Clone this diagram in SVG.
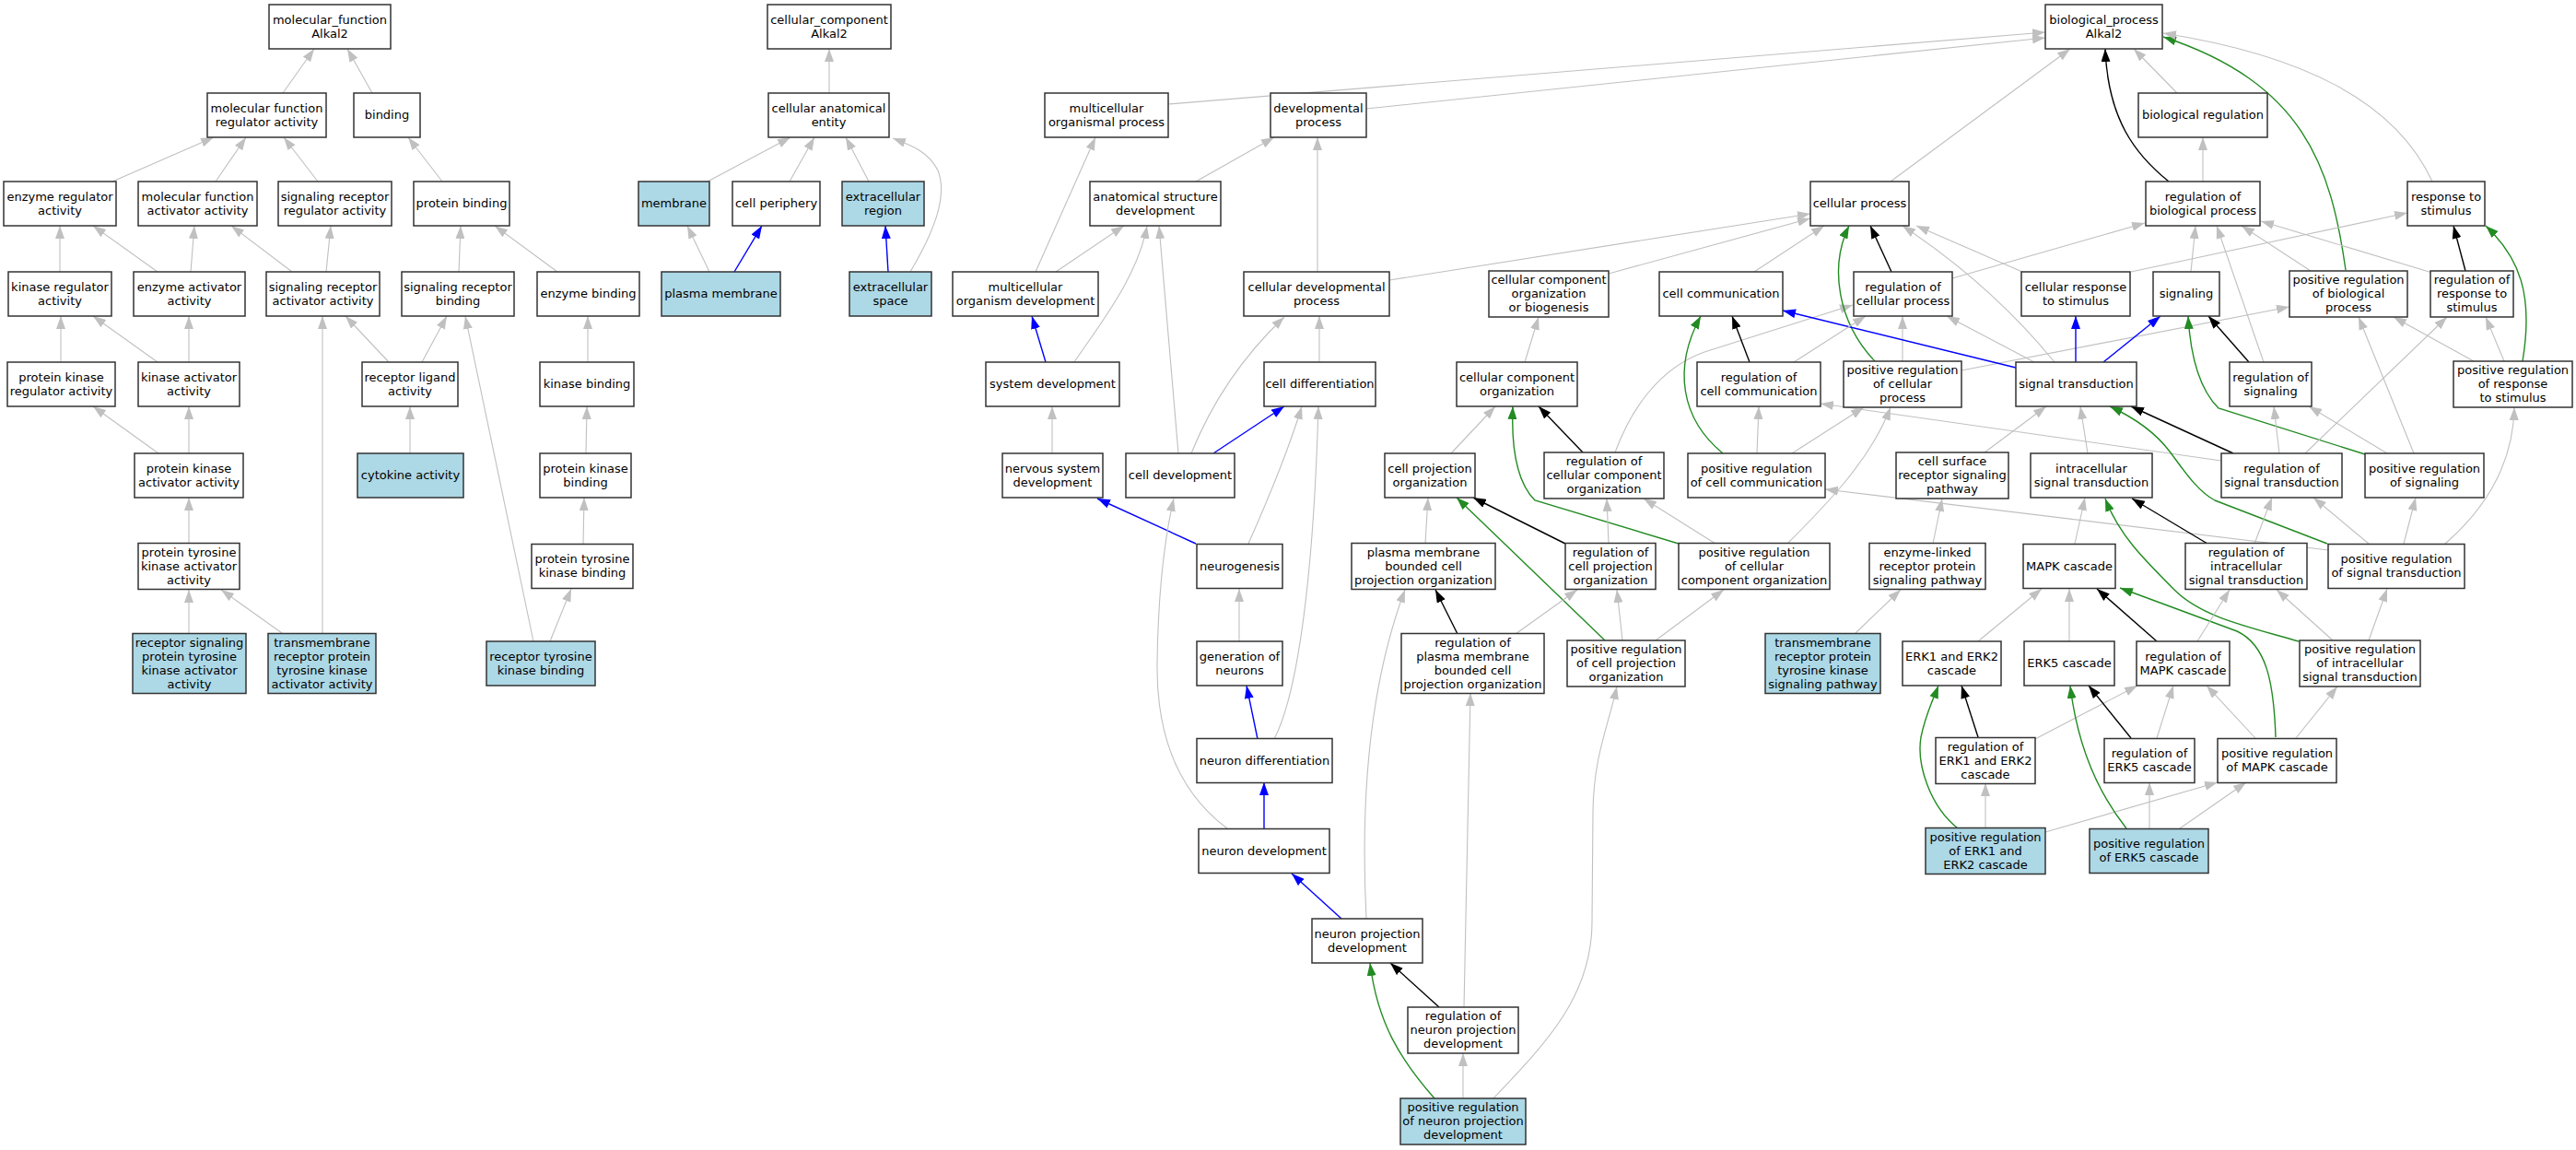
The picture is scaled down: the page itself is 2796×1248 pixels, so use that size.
<svg xmlns="http://www.w3.org/2000/svg" width="2796" height="1248" viewBox="0 0 2796 1248">
<defs>
<style>
.n rect{fill:#fff;stroke:#333;stroke-width:1.5}
.b rect{fill:#add8e6;stroke:#333;stroke-width:1.5}
text{font-family:"DejaVu Sans",Verdana,sans-serif;font-size:13px;text-anchor:middle;fill:#000}
#edges path{fill:none}
.eg{stroke:#c0c0c0;stroke-width:1.1;marker-end:url(#mg)}
.ek{stroke:#000;stroke-width:1.4;marker-end:url(#mk)}
.eb{stroke:#0000ff;stroke-width:1.4;marker-end:url(#mb)}
.en{stroke:#228b22;stroke-width:1.4;marker-end:url(#mn)}
</style>
<marker id="mg" viewBox="0 0 14 10" markerWidth="14" markerHeight="10" refX="14" refY="5" orient="auto" markerUnits="userSpaceOnUse"><path d="M0,0L14,5L0,10z" fill="#c0c0c0"/></marker>
<marker id="mk" viewBox="0 0 14 10" markerWidth="14" markerHeight="10" refX="14" refY="5" orient="auto" markerUnits="userSpaceOnUse"><path d="M0,0L14,5L0,10z" fill="#000"/></marker>
<marker id="mb" viewBox="0 0 14 10" markerWidth="14" markerHeight="10" refX="14" refY="5" orient="auto" markerUnits="userSpaceOnUse"><path d="M0,0L14,5L0,10z" fill="#0000ff"/></marker>
<marker id="mn" viewBox="0 0 14 10" markerWidth="14" markerHeight="10" refX="14" refY="5" orient="auto" markerUnits="userSpaceOnUse"><path d="M0,0L14,5L0,10z" fill="#228b22"/></marker>
</defs>
<rect x="0" y="0" width="2796" height="1248" fill="#fff"/>
<g id="edges">
<path class="eg" d="M307,101L341,53"/>
<path class="eg" d="M404,101L377,53"/>
<path class="eg" d="M122,197L232,149"/>
<path class="eg" d="M234,197L267,149"/>
<path class="eg" d="M345,197L308,149"/>
<path class="eg" d="M480,197L443,149"/>
<path class="eg" d="M65,295L65,245"/>
<path class="eg" d="M171,295L101,245"/>
<path class="eg" d="M207,295L211,245"/>
<path class="eg" d="M317,295L251,245"/>
<path class="eg" d="M354,295L359,245"/>
<path class="eg" d="M498,295L500,245"/>
<path class="eg" d="M605,295L537,245"/>
<path class="eg" d="M66,393L66,343"/>
<path class="eg" d="M171,393L101,343"/>
<path class="eg" d="M205,393L205,343"/>
<path class="eg" d="M422,393L375,343"/>
<path class="eg" d="M458,393L485,343"/>
<path class="eg" d="M638,393L638,343"/>
<path class="eg" d="M172,492L101,441"/>
<path class="eg" d="M205,492L205,441"/>
<path class="eg" d="M445,492L445,441"/>
<path class="eg" d="M636,492L637,441"/>
<path class="eg" d="M205,589L205,540"/>
<path class="eg" d="M633,590L634,540"/>
<path class="eg" d="M205,687L205,640"/>
<path class="eg" d="M306,687L240,640"/>
<path class="eg" d="M350,687L350,343"/>
<path class="eg" d="M597,696L620,639"/>
<path class="eg" d="M579,696L505,343"/>
<path class="eg" d="M900,101L900,53"/>
<path class="eg" d="M768,197L858,149"/>
<path class="eg" d="M857,197L884,149"/>
<path class="eg" d="M943,197L918,149"/>
<path class="eg" d="M988,295C1010,258 1030,215 1018,185C1008,165 990,158 969,150"/>
<path class="eg" d="M770,295L746,245"/>
<path class="eb" d="M797,295L827,245"/>
<path class="eb" d="M964,295L961,245"/>
<path class="eg" d="M1268,113L2220,35"/>
<path class="eg" d="M1483,118L2220,41"/>
<path class="eg" d="M2052,197L2247,53"/>
<path class="ek" d="M2354,197C2318,168 2288,130 2285,53"/>
<path class="eg" d="M2363,101L2316,53"/>
<path class="en" d="M2546,293C2530,180 2500,90 2348,40"/>
<path class="eg" d="M2640,197C2600,110 2500,60 2348,36"/>
<path class="eg" d="M2391,197L2391,149"/>
<path class="eg" d="M1298,197L1383,149"/>
<path class="eg" d="M1430,295L1430,149"/>
<path class="eg" d="M1124,295L1189,149"/>
<path class="eg" d="M1146,295L1220,245"/>
<path class="eg" d="M1166,393C1195,350 1235,300 1245,245"/>
<path class="eg" d="M1279,492L1258,245"/>
<path class="eb" d="M1135,393L1120,343"/>
<path class="eg" d="M1142,492L1142,441"/>
<path class="eb" d="M1298,590L1191,541"/>
<path class="eg" d="M1332,899C1280,860 1255,800 1256,720C1257,640 1265,580 1274,541"/>
<path class="eb" d="M1317,492L1394,441"/>
<path class="eg" d="M1293,492C1310,450 1340,395 1394,344"/>
<path class="eg" d="M1432,393L1432,343"/>
<path class="eg" d="M1355,590Q1395,500 1413,441"/>
<path class="eg" d="M1383,802C1405,760 1425,650 1431,441"/>
<path class="eg" d="M1345,696L1345,639"/>
<path class="eb" d="M1365,802L1353,744"/>
<path class="eb" d="M1372,899L1372,849"/>
<path class="eb" d="M1456,997L1402,948"/>
<path class="ek" d="M1562,1093L1509,1045"/>
<path class="en" d="M1557,1192C1520,1150 1495,1110 1487,1045"/>
<path class="eg" d="M1588,1192L1588,1143"/>
<path class="eg" d="M1621,1192C1680,1130 1728,1080 1728,1000L1729,880C1730,820 1745,790 1755,745"/>
<path class="eg" d="M1589,1093L1596,752"/>
<path class="eg" d="M1483,997C1478,900 1480,760 1525,640"/>
<path class="eg" d="M1575,492L1623,441"/>
<path class="ek" d="M1718,491L1670,441"/>
<path class="en" d="M1822,590L1666,543C1648,525 1640,490 1642,441"/>
<path class="eg" d="M1547,590L1550,540"/>
<path class="ek" d="M1699,590L1599,540"/>
<path class="en" d="M1742,695L1581,540"/>
<path class="eg" d="M1746,590L1744,541"/>
<path class="eg" d="M1862,590L1784,541"/>
<path class="ek" d="M1582,688L1558,640"/>
<path class="eg" d="M1645,688L1712,640"/>
<path class="eg" d="M1761,695L1755,640"/>
<path class="eg" d="M1797,695L1871,640"/>
<path class="eg" d="M1940,590C1980,550 2030,500 2052,442"/>
<path class="eg" d="M1753,491C1770,445 1800,400 1850,382L2011,331"/>
<path class="eg" d="M1655,393L1670,344"/>
<path class="eg" d="M1746,297L1965,237"/>
<path class="eg" d="M1508,304L1965,232"/>
<path class="eg" d="M1904,295L1980,245"/>
<path class="ek" d="M2053,295L2030,245"/>
<path class="en" d="M2035,392C1995,350 1985,290 2007,245"/>
<path class="eg" d="M2195,295L2080,245"/>
<path class="eg" d="M2230,393C2195,350 2140,295 2065,245"/>
<path class="eg" d="M2119,302L2328,242"/>
<path class="eg" d="M2065,392L2065,343"/>
<path class="eg" d="M2129,402L2485,333"/>
<path class="eg" d="M2313,295L2613,231"/>
<path class="eb" d="M2253,393L2253,343"/>
<path class="eb" d="M2283,393L2345,343"/>
<path class="eb" d="M2188,399L1935,337"/>
<path class="eg" d="M2208,393L2113,343"/>
<path class="eg" d="M2378,295L2383,245"/>
<path class="eg" d="M2457,393L2406,245"/>
<path class="eg" d="M2508,294L2433,245"/>
<path class="eg" d="M2640,296L2454,240"/>
<path class="ek" d="M2676,294L2663,245"/>
<path class="en" d="M2738,392C2750,320 2735,280 2698,245"/>
<path class="eg" d="M2718,392L2698,344"/>
<path class="eg" d="M2685,392L2598,344"/>
<path class="ek" d="M2441,393L2397,343"/>
<path class="en" d="M2567,493L2408,443C2390,425 2378,395 2375,343"/>
<path class="eg" d="M2591,492L2506,441"/>
<path class="eg" d="M2620,492L2560,344"/>
<path class="eg" d="M2474,492L2468,441"/>
<path class="ek" d="M2424,492L2313,441"/>
<path class="eg" d="M2411,500L1976,438"/>
<path class="eg" d="M2502,492L2656,344"/>
<path class="eg" d="M2266,492L2258,441"/>
<path class="eg" d="M2154,491L2221,441"/>
<path class="en" d="M2526,590L2404,543C2385,533 2370,510 2355,490C2340,470 2320,455 2290,441"/>
<path class="eg" d="M2571,590L2511,540"/>
<path class="eg" d="M2609,590L2622,540"/>
<path class="eg" d="M2654,590C2700,550 2728,500 2729,442"/>
<path class="eg" d="M2527,597L1981,531"/>
<path class="ek" d="M2396,590L2314,541"/>
<path class="eg" d="M2252,590L2263,540"/>
<path class="en" d="M2495,696C2440,680 2390,670 2360,640C2325,605 2300,580 2285,541"/>
<path class="en" d="M2470,800C2468,740 2460,700 2428,685L2301,638"/>
<path class="ek" d="M2341,696L2276,639"/>
<path class="eg" d="M2385,696L2420,640"/>
<path class="eg" d="M2532,695L2471,640"/>
<path class="eg" d="M2571,695L2591,639"/>
<path class="eg" d="M2447,590L2466,540"/>
<path class="eg" d="M2147,696L2216,639"/>
<path class="eg" d="M2246,696L2246,639"/>
<path class="ek" d="M2147,800L2129,744"/>
<path class="eg" d="M2207,803L2320,744"/>
<path class="ek" d="M2313,801L2267,744"/>
<path class="eg" d="M2341,801L2359,744"/>
<path class="eg" d="M2448,801L2395,744"/>
<path class="eg" d="M2492,801L2537,745"/>
<path class="en" d="M2125,899C2095,875 2080,830 2085,800C2090,775 2098,760 2104,744"/>
<path class="eg" d="M2155,899L2155,850"/>
<path class="eg" d="M2220,903L2407,849"/>
<path class="en" d="M2308,899C2285,870 2256,820 2247,744"/>
<path class="eg" d="M2333,899L2333,849"/>
<path class="eg" d="M2366,899L2438,849"/>
<path class="eg" d="M2098,590L2108,541"/>
<path class="eg" d="M2014,687L2063,640"/>
<path class="ek" d="M1899,393L1880,343"/>
<path class="en" d="M1870,492C1825,455 1815,400 1846,343"/>
<path class="eg" d="M1907,492L1909,441"/>
<path class="eg" d="M1945,492L2023,442"/>
<path class="eg" d="M1947,393L2025,343"/>
</g>
<g id="mf_root" class="n"><rect x="292" y="5" width="132" height="48"/><text><tspan x="358" y="25.5">molecular_function</tspan><tspan x="358" y="40.5">Alkal2</tspan></text></g>
<g id="mfreg" class="n"><rect x="225" y="101" width="129" height="48"/><text><tspan x="289.5" y="121.5">molecular function</tspan><tspan x="289.5" y="136.5">regulator activity</tspan></text></g>
<g id="binding" class="n"><rect x="384" y="101" width="72" height="48"/><text x="420" y="129">binding</text></g>
<g id="enzreg" class="n"><rect x="4" y="197" width="122" height="48"/><text><tspan x="65" y="217.5">enzyme regulator</tspan><tspan x="65" y="232.5">activity</tspan></text></g>
<g id="mfact" class="n"><rect x="150" y="197" width="129" height="48"/><text><tspan x="214.5" y="217.5">molecular function</tspan><tspan x="214.5" y="232.5">activator activity</tspan></text></g>
<g id="srreg" class="n"><rect x="302" y="197" width="123" height="48"/><text><tspan x="363.5" y="217.5">signaling receptor</tspan><tspan x="363.5" y="232.5">regulator activity</tspan></text></g>
<g id="protbind" class="n"><rect x="449" y="197" width="104" height="48"/><text x="501" y="225">protein binding</text></g>
<g id="kinreg" class="n"><rect x="9" y="295" width="112" height="48"/><text><tspan x="65" y="315.5">kinase regulator</tspan><tspan x="65" y="330.5">activity</tspan></text></g>
<g id="enzact" class="n"><rect x="145" y="295" width="121" height="48"/><text><tspan x="205.5" y="315.5">enzyme activator</tspan><tspan x="205.5" y="330.5">activity</tspan></text></g>
<g id="sract" class="n"><rect x="289" y="295" width="123" height="48"/><text><tspan x="350.5" y="315.5">signaling receptor</tspan><tspan x="350.5" y="330.5">activator activity</tspan></text></g>
<g id="srbind" class="n"><rect x="436" y="295" width="122" height="48"/><text><tspan x="497" y="315.5">signaling receptor</tspan><tspan x="497" y="330.5">binding</tspan></text></g>
<g id="enzbind" class="n"><rect x="583" y="295" width="111" height="48"/><text x="638.5" y="323">enzyme binding</text></g>
<g id="pkreg" class="n"><rect x="8" y="393" width="117" height="48"/><text><tspan x="66.5" y="413.5">protein kinase</tspan><tspan x="66.5" y="428.5">regulator activity</tspan></text></g>
<g id="kinact" class="n"><rect x="150" y="393" width="110" height="48"/><text><tspan x="205" y="413.5">kinase activator</tspan><tspan x="205" y="428.5">activity</tspan></text></g>
<g id="recligand" class="n"><rect x="393" y="393" width="104" height="48"/><text><tspan x="445" y="413.5">receptor ligand</tspan><tspan x="445" y="428.5">activity</tspan></text></g>
<g id="kinbind" class="n"><rect x="586" y="393" width="102" height="48"/><text x="637" y="421">kinase binding</text></g>
<g id="pkact" class="n"><rect x="146" y="492" width="118" height="48"/><text><tspan x="205" y="512.5">protein kinase</tspan><tspan x="205" y="527.5">activator activity</tspan></text></g>
<g id="cytokine" class="b"><rect x="388" y="492" width="115" height="48"/><text x="445.5" y="520">cytokine activity</text></g>
<g id="pkbind" class="n"><rect x="586" y="492" width="99" height="48"/><text><tspan x="635.5" y="512.5">protein kinase</tspan><tspan x="635.5" y="527.5">binding</tspan></text></g>
<g id="ptkact" class="n"><rect x="150" y="589.5" width="110" height="50"/><text><tspan x="205" y="603.5">protein tyrosine</tspan><tspan x="205" y="618.5">kinase activator</tspan><tspan x="205" y="633.5">activity</tspan></text></g>
<g id="ptkbind" class="n"><rect x="577" y="590.5" width="110" height="48"/><text><tspan x="632" y="611">protein tyrosine</tspan><tspan x="632" y="626">kinase binding</tspan></text></g>
<g id="rsptka" class="b"><rect x="144" y="687.5" width="123" height="65"/><text><tspan x="205.5" y="701.5">receptor signaling</tspan><tspan x="205.5" y="716.5">protein tyrosine</tspan><tspan x="205.5" y="731.5">kinase activator</tspan><tspan x="205.5" y="746.5">activity</tspan></text></g>
<g id="tmrptka" class="b"><rect x="291" y="687.5" width="117" height="65"/><text><tspan x="349.5" y="701.5">transmembrane</tspan><tspan x="349.5" y="716.5">receptor protein</tspan><tspan x="349.5" y="731.5">tyrosine kinase</tspan><tspan x="349.5" y="746.5">activator activity</tspan></text></g>
<g id="rtkbind" class="b"><rect x="528" y="696" width="118" height="48"/><text><tspan x="587" y="716.5">receptor tyrosine</tspan><tspan x="587" y="731.5">kinase binding</tspan></text></g>
<g id="cc_root" class="n"><rect x="833" y="5" width="134" height="48"/><text><tspan x="900" y="25.5">cellular_component</tspan><tspan x="900" y="40.5">Alkal2</tspan></text></g>
<g id="cae" class="n"><rect x="834" y="101" width="131" height="48"/><text><tspan x="899.5" y="121.5">cellular anatomical</tspan><tspan x="899.5" y="136.5">entity</tspan></text></g>
<g id="membrane" class="b"><rect x="693" y="197" width="77" height="48"/><text x="731.5" y="225">membrane</text></g>
<g id="cellperiph" class="n"><rect x="795" y="197" width="95" height="48"/><text x="842.5" y="225">cell periphery</text></g>
<g id="extreg" class="b"><rect x="914" y="197" width="89" height="48"/><text><tspan x="958.5" y="217.5">extracellular</tspan><tspan x="958.5" y="232.5">region</tspan></text></g>
<g id="plasmamem" class="b"><rect x="718" y="295" width="129" height="48"/><text x="782.5" y="323">plasma membrane</text></g>
<g id="extspace" class="b"><rect x="922" y="295" width="89" height="48"/><text><tspan x="966.5" y="315.5">extracellular</tspan><tspan x="966.5" y="330.5">space</tspan></text></g>
<g id="bp_root" class="n"><rect x="2220" y="5" width="127" height="48"/><text><tspan x="2283.5" y="25.5">biological_process</tspan><tspan x="2283.5" y="40.5">Alkal2</tspan></text></g>
<g id="mop" class="n"><rect x="1134" y="101" width="134" height="48"/><text><tspan x="1201" y="121.5">multicellular</tspan><tspan x="1201" y="136.5">organismal process</tspan></text></g>
<g id="devproc" class="n"><rect x="1379" y="101" width="104" height="48"/><text><tspan x="1431" y="121.5">developmental</tspan><tspan x="1431" y="136.5">process</tspan></text></g>
<g id="bioreg" class="n"><rect x="2321" y="101" width="140" height="48"/><text x="2391" y="129">biological regulation</text></g>
<g id="asd" class="n"><rect x="1183" y="197" width="142" height="48"/><text><tspan x="1254" y="217.5">anatomical structure</tspan><tspan x="1254" y="232.5">development</tspan></text></g>
<g id="cellproc" class="n"><rect x="1965" y="197" width="107" height="48"/><text x="2018.5" y="225">cellular process</text></g>
<g id="regbp" class="n"><rect x="2329" y="197" width="124" height="48"/><text><tspan x="2391" y="217.5">regulation of</tspan><tspan x="2391" y="232.5">biological process</tspan></text></g>
<g id="respstim" class="n"><rect x="2613" y="197" width="84" height="48"/><text><tspan x="2655" y="217.5">response to</tspan><tspan x="2655" y="232.5">stimulus</tspan></text></g>
<g id="mod" class="n"><rect x="1034" y="295" width="158" height="48"/><text><tspan x="1113" y="315.5">multicellular</tspan><tspan x="1113" y="330.5">organism development</tspan></text></g>
<g id="celldevproc" class="n"><rect x="1350" y="295" width="158" height="48"/><text><tspan x="1429" y="315.5">cellular developmental</tspan><tspan x="1429" y="330.5">process</tspan></text></g>
<g id="ccob" class="n"><rect x="1616" y="294" width="130" height="50"/><text><tspan x="1681" y="308">cellular component</tspan><tspan x="1681" y="323">organization</tspan><tspan x="1681" y="338">or biogenesis</tspan></text></g>
<g id="cellcomm" class="n"><rect x="1801" y="295" width="134" height="48"/><text x="1868" y="323">cell communication</text></g>
<g id="regcp" class="n"><rect x="2012" y="295" width="107" height="48"/><text><tspan x="2065.5" y="315.5">regulation of</tspan><tspan x="2065.5" y="330.5">cellular process</tspan></text></g>
<g id="cellresp" class="n"><rect x="2194" y="295" width="118" height="48"/><text><tspan x="2253" y="315.5">cellular response</tspan><tspan x="2253" y="330.5">to stimulus</tspan></text></g>
<g id="signaling" class="n"><rect x="2337" y="295" width="72" height="48"/><text x="2373" y="323">signaling</text></g>
<g id="posregbp" class="n"><rect x="2485" y="294" width="128" height="50"/><text><tspan x="2549" y="308">positive regulation</tspan><tspan x="2549" y="323">of biological</tspan><tspan x="2549" y="338">process</tspan></text></g>
<g id="regresp" class="n"><rect x="2638" y="294" width="90" height="50"/><text><tspan x="2683" y="308">regulation of</tspan><tspan x="2683" y="323">response to</tspan><tspan x="2683" y="338">stimulus</tspan></text></g>
<g id="sysdev" class="n"><rect x="1070" y="393" width="145" height="48"/><text x="1142.5" y="421">system development</text></g>
<g id="celldiff" class="n"><rect x="1372" y="393" width="121" height="48"/><text x="1432.5" y="421">cell differentiation</text></g>
<g id="cco" class="n"><rect x="1581" y="393" width="131" height="48"/><text><tspan x="1646.5" y="413.5">cellular component</tspan><tspan x="1646.5" y="428.5">organization</tspan></text></g>
<g id="regcellcomm" class="n"><rect x="1842" y="393" width="134" height="48"/><text><tspan x="1909" y="413.5">regulation of</tspan><tspan x="1909" y="428.5">cell communication</tspan></text></g>
<g id="posregcp" class="n"><rect x="2001" y="392" width="128" height="50"/><text><tspan x="2065" y="406">positive regulation</tspan><tspan x="2065" y="421">of cellular</tspan><tspan x="2065" y="436">process</tspan></text></g>
<g id="sigtrans" class="n"><rect x="2188" y="393" width="131" height="48"/><text x="2253.5" y="421">signal transduction</text></g>
<g id="regsig" class="n"><rect x="2420" y="393" width="89" height="48"/><text><tspan x="2464.5" y="413.5">regulation of</tspan><tspan x="2464.5" y="428.5">signaling</tspan></text></g>
<g id="posregresp" class="n"><rect x="2663" y="392" width="129" height="50"/><text><tspan x="2727.5" y="406">positive regulation</tspan><tspan x="2727.5" y="421">of response</tspan><tspan x="2727.5" y="436">to stimulus</tspan></text></g>
<g id="nsd" class="n"><rect x="1088" y="492" width="109" height="48"/><text><tspan x="1142.5" y="512.5">nervous system</tspan><tspan x="1142.5" y="527.5">development</tspan></text></g>
<g id="celldev" class="n"><rect x="1222" y="492" width="118" height="48"/><text x="1281" y="520">cell development</text></g>
<g id="cpo" class="n"><rect x="1503" y="492" width="98" height="48"/><text><tspan x="1552" y="512.5">cell projection</tspan><tspan x="1552" y="527.5">organization</tspan></text></g>
<g id="regcco" class="n"><rect x="1676" y="491" width="130" height="50"/><text><tspan x="1741" y="505">regulation of</tspan><tspan x="1741" y="520">cellular component</tspan><tspan x="1741" y="535">organization</tspan></text></g>
<g id="posregcellcomm" class="n"><rect x="1832" y="492" width="149" height="48"/><text><tspan x="1906.5" y="512.5">positive regulation</tspan><tspan x="1906.5" y="527.5">of cell communication</tspan></text></g>
<g id="csrsp" class="n"><rect x="2058" y="491" width="122" height="50"/><text><tspan x="2119" y="505">cell surface</tspan><tspan x="2119" y="520">receptor signaling</tspan><tspan x="2119" y="535">pathway</tspan></text></g>
<g id="ist" class="n"><rect x="2204" y="492" width="132" height="48"/><text><tspan x="2270" y="512.5">intracellular</tspan><tspan x="2270" y="527.5">signal transduction</tspan></text></g>
<g id="regst" class="n"><rect x="2411" y="492" width="131" height="48"/><text><tspan x="2476.5" y="512.5">regulation of</tspan><tspan x="2476.5" y="527.5">signal transduction</tspan></text></g>
<g id="posregsig" class="n"><rect x="2567" y="492" width="129" height="48"/><text><tspan x="2631.5" y="512.5">positive regulation</tspan><tspan x="2631.5" y="527.5">of signaling</tspan></text></g>
<g id="neurogenesis" class="n"><rect x="1299" y="590.5" width="93" height="48"/><text x="1345.5" y="618.5">neurogenesis</text></g>
<g id="pmbcpo" class="n"><rect x="1467" y="589.5" width="156" height="50"/><text><tspan x="1545" y="603.5">plasma membrane</tspan><tspan x="1545" y="618.5">bounded cell</tspan><tspan x="1545" y="633.5">projection organization</tspan></text></g>
<g id="regcpo" class="n"><rect x="1699" y="589.5" width="98" height="50"/><text><tspan x="1748" y="603.5">regulation of</tspan><tspan x="1748" y="618.5">cell projection</tspan><tspan x="1748" y="633.5">organization</tspan></text></g>
<g id="posregcco" class="n"><rect x="1822" y="589.5" width="164" height="50"/><text><tspan x="1904" y="603.5">positive regulation</tspan><tspan x="1904" y="618.5">of cellular</tspan><tspan x="1904" y="633.5">component organization</tspan></text></g>
<g id="elrpsp" class="n"><rect x="2029" y="589.5" width="126" height="50"/><text><tspan x="2092" y="603.5">enzyme-linked</tspan><tspan x="2092" y="618.5">receptor protein</tspan><tspan x="2092" y="633.5">signaling pathway</tspan></text></g>
<g id="mapk" class="n"><rect x="2196" y="590.5" width="100" height="48"/><text x="2246" y="618.5">MAPK cascade</text></g>
<g id="regist" class="n"><rect x="2372" y="589.5" width="132" height="50"/><text><tspan x="2438" y="603.5">regulation of</tspan><tspan x="2438" y="618.5">intracellular</tspan><tspan x="2438" y="633.5">signal transduction</tspan></text></g>
<g id="posregst" class="n"><rect x="2527" y="590.5" width="148" height="48"/><text><tspan x="2601" y="611">positive regulation</tspan><tspan x="2601" y="626">of signal transduction</tspan></text></g>
<g id="genneur" class="n"><rect x="1299" y="696" width="93" height="48"/><text><tspan x="1345.5" y="716.5">generation of</tspan><tspan x="1345.5" y="731.5">neurons</tspan></text></g>
<g id="regpmbcpo" class="n"><rect x="1521" y="687.5" width="155" height="65"/><text><tspan x="1598.5" y="701.5">regulation of</tspan><tspan x="1598.5" y="716.5">plasma membrane</tspan><tspan x="1598.5" y="731.5">bounded cell</tspan><tspan x="1598.5" y="746.5">projection organization</tspan></text></g>
<g id="posregcpo" class="n"><rect x="1701" y="695" width="128" height="50"/><text><tspan x="1765" y="709">positive regulation</tspan><tspan x="1765" y="724">of cell projection</tspan><tspan x="1765" y="739">organization</tspan></text></g>
<g id="tmrptksp" class="b"><rect x="1916" y="687.5" width="125" height="65"/><text><tspan x="1978.5" y="701.5">transmembrane</tspan><tspan x="1978.5" y="716.5">receptor protein</tspan><tspan x="1978.5" y="731.5">tyrosine kinase</tspan><tspan x="1978.5" y="746.5">signaling pathway</tspan></text></g>
<g id="erk12" class="n"><rect x="2065" y="696" width="107" height="48"/><text><tspan x="2118.5" y="716.5">ERK1 and ERK2</tspan><tspan x="2118.5" y="731.5">cascade</tspan></text></g>
<g id="erk5" class="n"><rect x="2197" y="696" width="98" height="48"/><text x="2246" y="724">ERK5 cascade</text></g>
<g id="regmapk" class="n"><rect x="2319" y="696" width="101" height="48"/><text><tspan x="2369.5" y="716.5">regulation of</tspan><tspan x="2369.5" y="731.5">MAPK cascade</tspan></text></g>
<g id="posregist" class="n"><rect x="2496" y="695" width="131" height="50"/><text><tspan x="2561.5" y="709">positive regulation</tspan><tspan x="2561.5" y="724">of intracellular</tspan><tspan x="2561.5" y="739">signal transduction</tspan></text></g>
<g id="neurdiff" class="n"><rect x="1299" y="801.5" width="147" height="48"/><text x="1372.5" y="829.5">neuron differentiation</text></g>
<g id="regerk12" class="n"><rect x="2101" y="800.5" width="108" height="50"/><text><tspan x="2155" y="814.5">regulation of</tspan><tspan x="2155" y="829.5">ERK1 and ERK2</tspan><tspan x="2155" y="844.5">cascade</tspan></text></g>
<g id="regerk5" class="n"><rect x="2284" y="801.5" width="98" height="48"/><text><tspan x="2333" y="822">regulation of</tspan><tspan x="2333" y="837">ERK5 cascade</tspan></text></g>
<g id="posregmapk" class="n"><rect x="2407" y="801.5" width="129" height="48"/><text><tspan x="2471.5" y="822">positive regulation</tspan><tspan x="2471.5" y="837">of MAPK cascade</tspan></text></g>
<g id="neurdev" class="n"><rect x="1301" y="899.5" width="142" height="48"/><text x="1372" y="927.5">neuron development</text></g>
<g id="posregerk12" class="b"><rect x="2090" y="898.5" width="130" height="50"/><text><tspan x="2155" y="912.5">positive regulation</tspan><tspan x="2155" y="927.5">of ERK1 and</tspan><tspan x="2155" y="942.5">ERK2 cascade</tspan></text></g>
<g id="posregerk5" class="b"><rect x="2268" y="899.5" width="129" height="48"/><text><tspan x="2332.5" y="920">positive regulation</tspan><tspan x="2332.5" y="935">of ERK5 cascade</tspan></text></g>
<g id="npd" class="n"><rect x="1424" y="997" width="120" height="48"/><text><tspan x="1484" y="1017.5">neuron projection</tspan><tspan x="1484" y="1032.5">development</tspan></text></g>
<g id="regnpd" class="n"><rect x="1528" y="1093" width="120" height="50"/><text><tspan x="1588" y="1107">regulation of</tspan><tspan x="1588" y="1122">neuron projection</tspan><tspan x="1588" y="1137">development</tspan></text></g>
<g id="posregnpd" class="b"><rect x="1520" y="1192" width="136" height="50"/><text><tspan x="1588" y="1206">positive regulation</tspan><tspan x="1588" y="1221">of neuron projection</tspan><tspan x="1588" y="1236">development</tspan></text></g>
</svg>
